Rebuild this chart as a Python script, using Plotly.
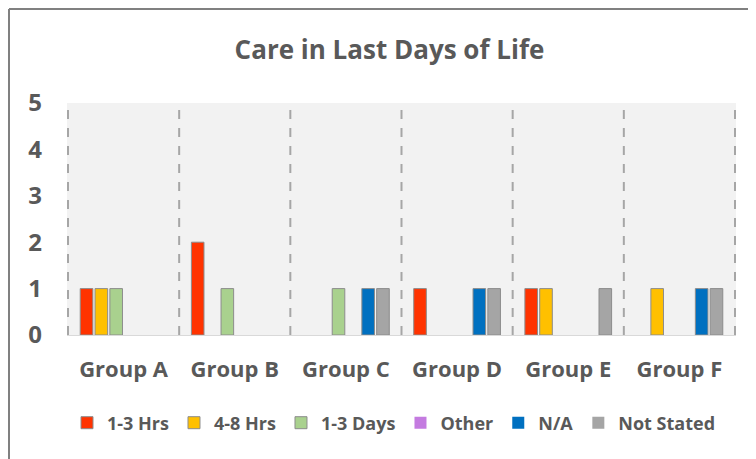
import plotly.graph_objects as go

groups = ["Group A", "Group B", "Group C", "Group D", "Group E", "Group F"]
series_names = ["1-3 Hrs", "4-8 Hrs", "1-3 Days", "Other", "N/A", "Not Stated"]
hrs_1_3 = [1, 2, 0, 1, 1, 0]
hrs_4_8 = [1, 0, 0, 0, 1, 1]
days_1_3 = [1, 1, 1, 0, 0, 0]
other = [0, 0, 0, 0, 0, 0]
n_a = [0, 0, 1, 1, 0, 1]
not_stated = [0, 0, 1, 1, 1, 1]
colors = ["#ff3300", "#ffc000", "#a9d18e", "#c47be0", "#0070c0", "#a5a5a5"]

# page body adds an 8px margin, so the figure is 8px smaller than the window
W, H = 748, 451
L, R, T, B = 59, 20, 95, 124
FONT = "Open Sans"
GREY = "#595959"


def main():
    fig = go.Figure()
    for name, vals, col in zip(series_names, [hrs_1_3, hrs_4_8, days_1_3, other, n_a, not_stated], colors):
        # no outline on empty bars, so zeros don't show up as a stub
        fig.add_trace(go.Bar(x=groups, y=vals, name=name,
                             marker=dict(color=col, line=dict(color="#8c8c8c",
                                                              width=[1 if v else 0 for v in vals]))))

    # dashed separators between categories
    for i in range(len(groups) + 1):
        fig.add_shape(type="line", xref="x", yref="y", x0=i - 0.5, x1=i - 0.5, y0=0, y1=5,
                      line=dict(color="#a6a6a6", width=2, dash="dash"), layer="below")

    # outer chart border (top and left edges visible)
    pw, ph = W - L - R, H - T - B
    bx, by = (1 - L) / pw, 1 + (T - 1) / ph
    fig.add_shape(type="line", xref="paper", yref="paper", x0=bx, x1=bx, y0=by, y1=-B / ph - 0.05,
                  line=dict(color="#808080", width=2))
    fig.add_shape(type="line", xref="paper", yref="paper", x0=bx, x1=1 + R / pw + 0.05, y0=by, y1=by,
                  line=dict(color="#808080", width=2))

    fig.update_layout(
        width=W, height=H,
        margin=dict(l=L, r=R, t=T, b=B, autoexpand=False),
        paper_bgcolor="white", plot_bgcolor="#f2f2f2",
        barmode="group", bargap=0.2, bargroupgap=0.15,
        title=dict(text="<b>Care in Last Days of Life</b>", x=0.51, xanchor="center", y=1 - 42 / H,
                   yanchor="middle", yref="container",
                   font=dict(family=FONT, size=26, color=GREY)),
        legend=dict(orientation="h", x=(386 - L) / pw, xanchor="center", y=-(415 - T - ph) / ph,
                    yanchor="middle", font=dict(family=FONT, size=18, color=GREY, weight="bold"),
                    traceorder="normal", itemwidth=30),
        font=dict(family=FONT, color=GREY),
    )
    fig.update_yaxes(range=[0, 5], dtick=1, showgrid=False, zeroline=False, automargin=False,
                     tickfont=dict(family=FONT, size=24, color=GREY, weight="bold"), ticklabelstandoff=24)
    fig.update_xaxes(showgrid=False, showline=True, linecolor="#d9d9d9", linewidth=1, automargin=False,
                     tickfont=dict(family=FONT, size=22, color=GREY, weight="bold"), ticklabelstandoff=15)
    fig.write_html("out.html")


if __name__ == '__main__':
    main()
